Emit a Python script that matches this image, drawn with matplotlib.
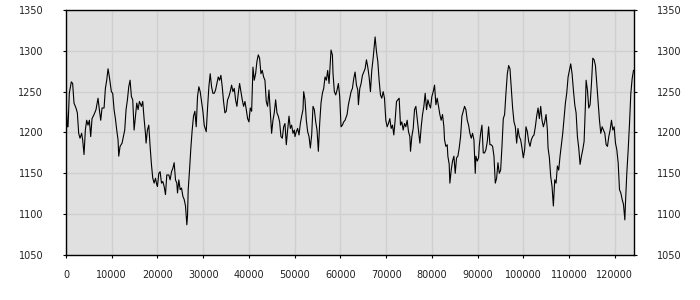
import matplotlib
matplotlib.use('Agg')
import matplotlib.pyplot as plt

# Series values
x_vals = [0, 290, 440, 720, 1160, 1450, 1750, 2180, 2480, 2770, 3060, 3420, 3640, 3940, 4230, 4520,
          4810, 5110, 5400, 5690, 6130, 6560, 7000, 7290, 7590, 7880, 8320, 8610, 8900, 9190, 9480,
          9920, 10210, 10510, 10800, 11090, 11380, 11530, 11820, 12260, 12550, 12840, 13130, 13430,
          13720, 14010, 14300, 14590, 14890, 15180, 15470, 15760, 16050, 16490, 16780, 17070, 17370,
          17510, 17800, 18100, 18390, 18680, 18970, 19270, 19560, 19850,
          20000, 20290, 20580, 20880, 21170, 21460, 21750, 22040, 22480, 22770, 23070, 23360, 23650,
          23940, 24230, 24380, 24670, 24960, 25260, 25550, 25840, 26130, 26420, 26570, 26720, 27010,
          27300, 27590, 27880, 28180, 28470, 28760, 29050, 29340, 29640, 29930, 30220, 30660, 30950,
          31240, 31530, 31830, 32120, 32410, 32700, 32990, 33290, 33580, 33870, 34160, 34450, 34750,
          35040, 35330, 35620, 35910, 36210, 36500, 36790, 37080, 37370, 37670, 37960, 38250, 38540,
          38830, 39130, 39420, 39710, 40000, 40290, 40590, 40880,
          41160, 41460, 41750, 42040, 42330, 42620, 42920, 43210, 43500, 43790, 44080, 44380, 44670,
          44960, 45250, 45540, 45840, 46130, 46420, 46710, 47000, 47300, 47590, 47880, 48170, 48460,
          48760, 49050, 49340, 49630, 49920, 50070, 50360, 50650, 50950, 51240, 51530, 51820, 51970,
          52260, 52550, 52840, 53140, 53430, 53720, 54010, 54300, 54600, 54890, 55180, 55470, 55760,
          56060, 56350, 56640, 56930, 57220, 57520, 57810, 57950, 58250, 58390, 58680, 58980, 59270,
          59560, 59850, 60140, 60440, 60730, 61020,
          61460, 61750, 62050, 62340, 62630, 62920, 63210, 63510, 63800, 63940, 64240, 64530, 64820,
          65110, 65400, 65700, 65990, 66280, 66570, 66860, 67160, 67450, 67590, 67890, 68180, 68470,
          68760, 69050, 69350, 69640, 69930, 70220, 70510, 70810, 71100, 71390, 71680, 71970, 72270,
          72560, 72850, 73140, 73430, 73730, 74020, 74310, 74600, 74890, 75190, 75330, 75620, 75920,
          76210, 76500, 76790, 77080, 77380, 77670, 77960, 78250, 78540, 78840, 79130, 79420, 79710,
          80000, 80300, 80590, 80880, 81170, 81460,
          81750, 82040, 82330, 82630, 82770, 83060, 83360, 83500, 83790, 83940, 84230, 84520, 84820,
          85110, 85400, 85690, 85980, 86280, 86570, 86860, 87150, 87440, 87740, 88030, 88320, 88610,
          88900, 89200, 89490, 89630, 89930, 90220, 90360, 90660, 90950, 91240, 91530, 91820, 92120,
          92410, 92700, 92990, 93280, 93580, 93870, 94160, 94450, 94740, 95040, 95330, 95620, 95910,
          96200, 96500, 96790, 97080, 97370, 97660, 97960, 98250, 98540, 98830, 99120, 99420, 99710,
          100000, 100290, 100580, 100880, 101170, 101460, 101750, 102040,
          102340, 102630, 102920, 103220, 103510, 103800, 104090, 104380, 104680, 104970, 105260,
          105410, 105700, 105990, 106280, 106570, 106870, 107160, 107450, 107740, 108030, 108330,
          108620, 108910, 109200, 109490, 109790, 110080, 110370, 110660, 110950, 111250, 111540,
          111830, 112120, 112410, 112710, 113000, 113290, 113580, 113730, 114020, 114310, 114600,
          114900, 115190, 115480, 115770, 116060, 116360, 116650, 116940, 117230, 117520, 117820,
          118110, 118400, 118690, 118980, 119280, 119570, 119860, 120150, 120440, 120740, 121030,
          121320, 121610, 121900, 122200, 122340, 122630, 122930, 123220, 123510, 123800, 124090]

y_vals = [1240, 1207, 1207, 1248, 1262, 1260, 1236, 1230, 1224, 1199, 1193, 1199, 1191, 1173, 1203, 1215,
          1209, 1215, 1195, 1217, 1222, 1228, 1242, 1228, 1215, 1230, 1230, 1254, 1264, 1278, 1268,
          1250, 1248, 1228, 1217, 1203, 1191, 1171, 1183, 1187, 1195, 1203, 1228, 1240,
          1256, 1264, 1244, 1240, 1203, 1220, 1236, 1228, 1238, 1232, 1238, 1217, 1199,
          1187, 1203, 1209, 1183, 1161, 1144, 1138, 1144, 1136,
          1134, 1150, 1152, 1138, 1140, 1134, 1124, 1148, 1148, 1142, 1152, 1156, 1163,
          1142, 1138, 1126, 1142, 1130, 1132, 1122, 1118, 1110, 1087, 1098, 1130, 1154,
          1181, 1203, 1220, 1226, 1207, 1244, 1256, 1250, 1238, 1226, 1209, 1201, 1230,
          1256, 1272, 1256, 1248, 1248, 1252, 1260, 1268, 1264, 1270, 1256, 1238, 1224,
          1226, 1240, 1244, 1250, 1258, 1250, 1254, 1240, 1232, 1248, 1260, 1250, 1240,
          1232, 1238, 1228, 1217, 1213, 1230, 1226, 1280,
          1264, 1272, 1287, 1295, 1291, 1272, 1276, 1268, 1264, 1238, 1232, 1252, 1226,
          1199, 1215, 1224, 1240, 1224, 1220, 1213, 1195, 1193, 1207, 1211, 1185, 1203,
          1220, 1205, 1209, 1199, 1203, 1195, 1201, 1205, 1197, 1211, 1220, 1228, 1250,
          1240, 1215, 1201, 1195, 1181, 1197, 1232, 1228, 1213, 1203, 1177, 1211, 1236,
          1248, 1254, 1268, 1264, 1276, 1260, 1289, 1301, 1295, 1272, 1250, 1246, 1252,
          1260, 1244, 1207, 1209, 1213, 1215,
          1222, 1234, 1242, 1250, 1254, 1266, 1274, 1258, 1252, 1234, 1254, 1260, 1270,
          1274, 1278, 1289, 1280, 1268, 1250, 1276, 1291, 1309, 1317, 1299, 1287, 1264,
          1246, 1242, 1250, 1242, 1215, 1207, 1211, 1217, 1205, 1209, 1197, 1215, 1238,
          1240, 1242, 1209, 1213, 1203, 1211, 1207, 1215, 1201, 1195, 1177, 1195, 1205,
          1228, 1232, 1217, 1203, 1187, 1207, 1222, 1232, 1248, 1228, 1240, 1234, 1230,
          1244, 1250, 1258, 1234, 1242, 1232,
          1222, 1215, 1222, 1207, 1191, 1183, 1185, 1171, 1161, 1138, 1154, 1165, 1171,
          1150, 1169, 1171, 1181, 1195, 1220, 1226, 1232, 1228, 1215, 1209, 1199, 1193,
          1199, 1191, 1150, 1171, 1165, 1169, 1183, 1199, 1209, 1175, 1175, 1179, 1189,
          1207, 1185, 1185, 1183, 1171, 1138, 1144, 1163, 1150, 1154, 1183, 1217, 1222,
          1248, 1272, 1282, 1278, 1254, 1230, 1213, 1207, 1187, 1205, 1195, 1191, 1181,
          1169, 1179, 1207, 1201, 1189, 1183, 1191, 1195,
          1197, 1207, 1220, 1230, 1217, 1232, 1215, 1207, 1213, 1222, 1203,
          1181, 1169, 1146, 1134, 1110, 1142, 1138, 1159, 1154, 1171, 1185,
          1199, 1217, 1236, 1248, 1268, 1276, 1284, 1272, 1252, 1234, 1224,
          1195, 1181, 1161, 1171, 1179, 1189, 1234, 1264, 1252, 1230, 1234,
          1260, 1291, 1289, 1282, 1260, 1238, 1215, 1199, 1207, 1203, 1199,
          1185, 1183, 1195, 1203, 1215, 1203, 1207, 1187, 1179, 1163, 1130,
          1126, 1118, 1112, 1093, 1114, 1150, 1179, 1211, 1248, 1266, 1276]

y_ticks = [1050, 1100, 1150, 1200, 1250, 1300, 1350]
x_ticks = [0, 10000, 20000, 30000, 40000, 50000, 60000, 70000, 80000, 90000, 100000, 110000, 120000]

plt.rcParams['font.family'] = 'DejaVu Sans'
plt.rcParams['font.size'] = 7

fig = plt.figure(figsize=(7, 3), dpi=100)
ax = fig.add_axes([0.0943, 0.15, 0.8114, 0.8167])
ax.set_facecolor('#e0e0e0')

ax.plot(x_vals, y_vals, color='black', linewidth=0.8)

ax.set_xlim(0, 124200)
ax.set_ylim(1050, 1350)
ax.set_xticks(x_ticks)
ax.set_yticks(y_ticks)
ax.grid(True, color='#d0d0d0', linewidth=1.0)
ax.set_axisbelow(True)

ax.tick_params(axis='both', direction='out', length=2.5, width=0.8, colors='black', labelcolor='#222222')
ax.tick_params(axis='y', which='both', left=True, right=True, labelleft=True, labelright=True, pad=14)
ax.tick_params(axis='x', pad=8)
for s in ax.spines.values():
    s.set_linewidth(1.0)

fig.savefig('out.png', dpi=100)
